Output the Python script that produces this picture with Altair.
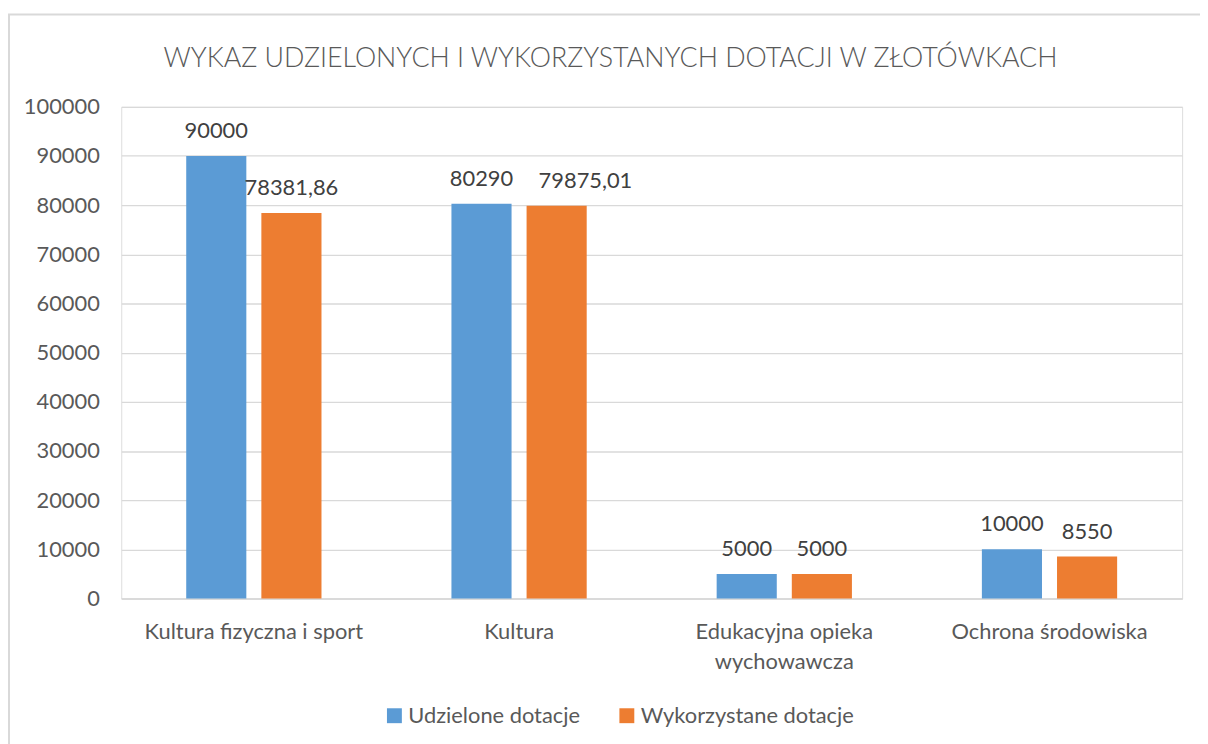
import altair as alt
import pandas as pd

TITLE = "WYKAZ UDZIELONYCH I WYKORZYSTANYCH DOTACJI W ZŁOTÓWKACH"
CATEGORIES = [
    "Kultura fizyczna i sport",
    "Kultura",
    "Edukacyjna opieka wychowawcza",
    "Ochrona środowiska",
]
WRAPPED = {"Edukacyjna opieka wychowawcza": ["Edukacyjna opieka", "wychowawcza"]}
SERIES = ["Udzielone dotacje", "Wykorzystane dotacje"]
UDZIELONE = [90000, 80290, 5000, 10000]
WYKORZYSTANE = [78381.86, 79875.01, 5000, 8550]
COLORS = ["#5B9BD5", "#ED7D31"]
Y_TICKS = [0, 10000, 20000, 30000, 40000, 50000, 60000, 70000, 80000, 90000, 100000]

FONT = "Lato"
GREY = "#595959"
FS = 22

rows = []
for s, vals in zip(SERIES, [UDZIELONE, WYKORZYSTANE]):
    for c, v in zip(CATEGORIES, vals):
        rows.append({"kategoria": c, "seria": s, "wartosc": v,
                     "etykieta": str(v).replace(".", ",")})
df = pd.DataFrame(rows)

label_expr = "datum.label"
for k, parts in WRAPPED.items():
    arr = "[" + ", ".join("'" + p + "'" for p in parts) + "]"
    label_expr = f"datum.value == '{k}' ? {arr} : ({label_expr})"

base = alt.Chart(df).encode(
    x=alt.X(
        "kategoria:N",
        sort=CATEGORIES,
        scale=alt.Scale(paddingInner=0.49, paddingOuter=0.245),
        axis=alt.Axis(
            title=None, labelAngle=0, labelExpr=label_expr, labelLimit=0,
            domainColor="#D9D9D9", domainWidth=1.5, ticks=False,
            labelPadding=23, labelFontSize=FS, labelLineHeight=30,
            labelColor=GREY, labelFont=FONT, labelBaseline="top",
        ),
    ),
    xOffset=alt.XOffset("seria:N", sort=SERIES, scale=alt.Scale(paddingInner=0.2)),
    y=alt.Y(
        "wartosc:Q",
        scale=alt.Scale(domain=[0, 100000], nice=False),
        axis=alt.Axis(
            title=None, values=Y_TICKS, format="d", domain=False, ticks=False,
            labelPadding=22, gridColor="#D9D9D9", gridWidth=1.3,
            labelFontSize=FS, labelFont=FONT, labelColor=GREY,
        ),
    ),
)

bars = base.mark_bar().encode(
    color=alt.Color(
        "seria:N", sort=SERIES,
        scale=alt.Scale(domain=SERIES, range=COLORS),
        legend=alt.Legend(
            title=None, orient="none", legendX=264, legendY=602,
            direction="horizontal", symbolType="square", symbolSize=225,
            symbolStrokeWidth=0, labelFontSize=FS, labelFont=FONT, labelLimit=0,
            labelColor=GREY, labelOffset=3, columnPadding=36, padding=0,
        ),
    )
)

# Excel nudged the overlapping label of "Kultura / Wykorzystane" to the right
overlap = (alt.datum.kategoria == "Kultura") & (alt.datum.seria == "Wykorzystane dotacje")

labels = base.transform_filter(~overlap).mark_text(
    dy=-18, baseline="alphabetic", fontSize=FS, color="#404040", font=FONT
).encode(text="etykieta:N")

labels_nudged = base.transform_filter(overlap).mark_text(
    dy=-18, dx=29, baseline="alphabetic", fontSize=FS, color="#404040", font=FONT
).encode(text="etykieta:N")

border = alt.Chart(alt.Data(values=[{}])).mark_rect(
    filled=False, stroke="#D9D9D9", strokeWidth=2
).encode(
    x=alt.value(-113), x2=alt.value(1200), y=alt.value(-93), y2=alt.value(800)
)

title = alt.Chart(alt.Data(values=[{"t": TITLE}])).mark_text(
    fontSize=27, font=FONT, fontWeight=300, color=GREY,
    baseline="alphabetic", align="center"
).encode(text="t:N", x=alt.value(492.5), y=alt.value(-40))

chart = alt.layer(border, title, bars, labels, labels_nudged).properties(
    width=1068,
    height=495,
    padding={"left": 114, "top": 97, "right": 18, "bottom": 144},
    autosize=alt.AutoSizeParams(type="none"),
).configure_view(strokeWidth=0).configure(background="white")

chart.save("out.html", embed_options={"renderer": "svg", "actions": False})
